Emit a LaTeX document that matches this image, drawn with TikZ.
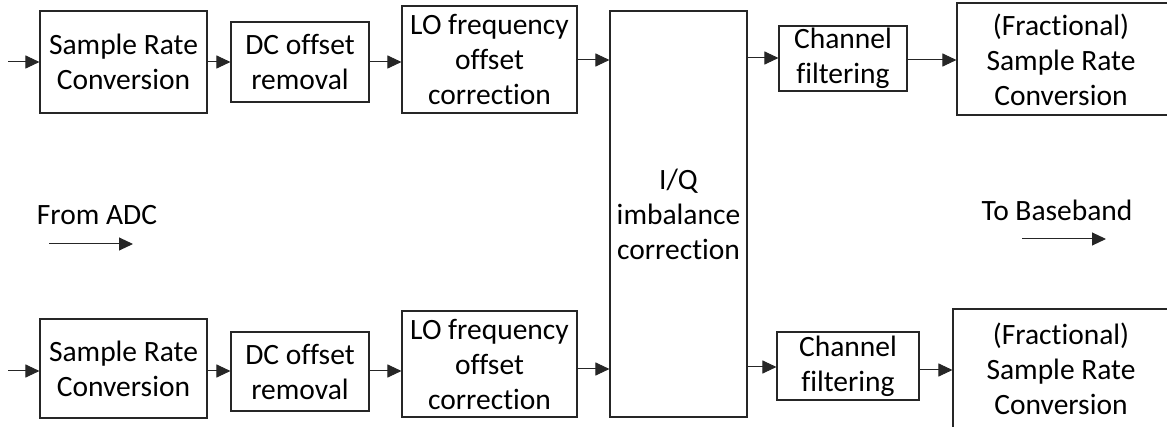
\documentclass[tikz,border=0pt]{standalone}
\usepackage{fontspec}
\setmainfont{Carlito}[Ligatures={NoCommon}]
\usetikzlibrary{arrows.meta}
\begin{document}
\begin{tikzpicture}[x=1pt,y=-1pt,
  blk/.style={draw=black!85,line width=1.1pt,rectangle,inner sep=0pt,align=center,
    font=\fontsize{29.5}{35}\selectfont},
  arr/.style={draw=black!85,line width=1pt,-{Triangle[length=14pt,width=13pt]}},
  lbl/.style={font=\fontsize{29.5}{35}\selectfont,inner sep=0pt}]
\useasboundingbox (0,0) rectangle (1167,427);
\clip (0,0) rectangle (1167,427);
% top row
\node[blk,minimum width=167pt,minimum height=102pt] (srcA) at (123.5,62) {Sample Rate\\Conversion};
\node[blk,minimum width=138pt,minimum height=80pt] (dcA) at (300,62) {DC offset\\removal};
\node[blk,minimum width=175pt,minimum height=107pt] (loA) at (489.5,59.5) {LO frequency\\offset\\correction};
\node[blk,minimum width=137pt,minimum height=406pt] (iq) at (678.5,214) {I/Q\\imbalance\\correction};
\node[blk,minimum width=128pt,minimum height=65pt] (chA) at (843,58.5) {Channel\\filtering};
\node[blk,minimum width=223pt,minimum height=112pt] (frA) at (1068.5,59) {};
\node[lbl,align=center] (frAt) at (1061,60) {(Fractional)\\Sample Rate\\Conversion};
% bottom row
\node[blk,minimum width=167pt,minimum height=99pt] (srcB) at (123.5,368.5) {Sample Rate\\Conversion};
\node[blk,minimum width=138pt,minimum height=79pt] (dcB) at (300,371.5) {DC offset\\removal};
\node[blk,minimum width=175pt,minimum height=106pt] (loB) at (489.5,364) {LO frequency\\offset\\correction};
\node[blk,minimum width=142pt,minimum height=68pt] (chB) at (848,366) {Channel\\filtering};
\node[blk,minimum width=227pt,minimum height=120pt] (frB) at (1066.5,369) {};
\node[lbl,align=center] (frBt) at (1061,369) {(Fractional)\\Sample Rate\\Conversion};
% inputs
\coordinate (inA) at (8,62);
\coordinate (inB) at (8,371);
% arrows top
\draw[arr] (inA) -- (srcA.west |- inA);
\draw[arr] (srcA.east |- 0,62) -- (dcA.west |- 0,62);
\draw[arr] (dcA.east |- 0,62) -- (loA.west |- 0,62);
\draw[arr] (loA.east |- 0,60) -- (iq.west |- 0,60);
\draw[arr] (iq.east |- 0,58) -- (chA.west |- 0,58);
\draw[arr] (chA.east |- 0,60) -- (frA.west |- 0,60);
% arrows bottom
\draw[arr] (inB) -- (srcB.west |- inB);
\draw[arr] (srcB.east |- 0,371) -- (dcB.west |- 0,371);
\draw[arr] (dcB.east |- 0,371) -- (loB.west |- 0,371);
\draw[arr] (loB.east |- 0,369) -- (iq.west |- 0,369);
\draw[arr] (iq.east |- 0,367) -- (chB.west |- 0,367);
\draw[arr] (chB.east |- 0,370) -- (frB.west |- 0,370);
% legend
\node[lbl] (from) at (97,215) {From ADC};
\coordinate (fa1) at (49,244);
\coordinate (fa2) at (133,244);
\draw[arr] (fa1) -- (fa2);
\node[lbl] (to) at (1057,210) {To Baseband};
\coordinate (ta1) at (1022,239);
\coordinate (ta2) at (1106,239);
\draw[arr] (ta1) -- (ta2);
\end{tikzpicture}
\end{document}
